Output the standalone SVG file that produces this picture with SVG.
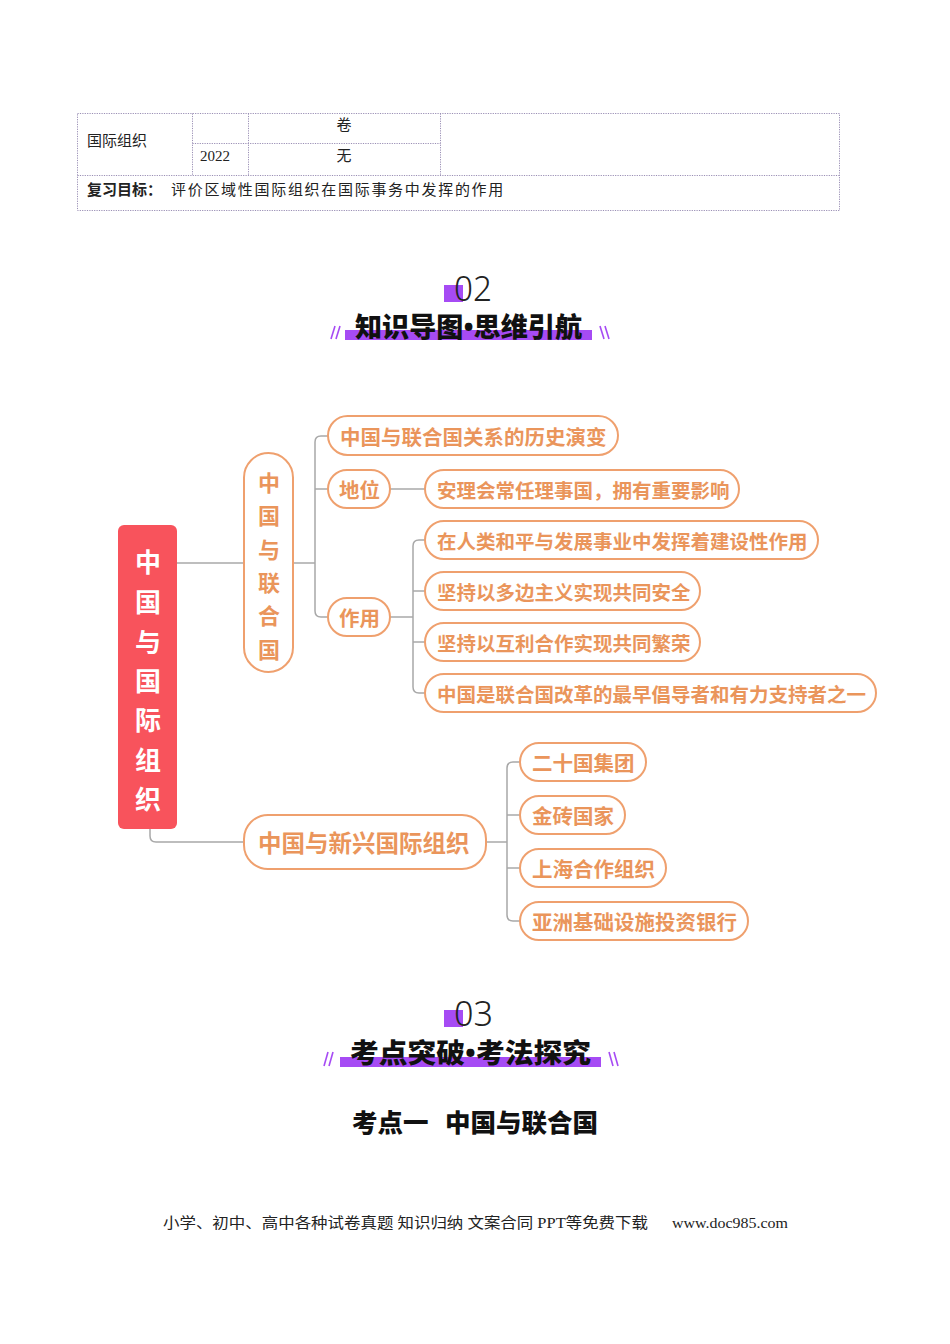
<svg xmlns="http://www.w3.org/2000/svg" width="950" height="1344" viewBox="0 0 950 1344">
<style>
.tb{fill:none;stroke:#9a8fb5;stroke-width:1;stroke-dasharray:1.2 1.2}
.tt{font-family:"Liberation Serif","Noto Sans CJK SC",serif;font-size:15px;fill:#222}
.pill{fill:#fff;stroke:#EFA06E;stroke-width:2}
.pt{font-family:"Noto Sans CJK SC",sans-serif;font-weight:700;fill:#EA955B;dominant-baseline:central}
.con{fill:none;stroke:#A8A8A8;stroke-width:1.5}
.num{font-family:"Noto Sans","Open Sans",sans-serif;font-weight:300;font-size:34px;fill:#222}
.ttl{font-family:"Noto Sans CJK SC",sans-serif;font-weight:900;font-size:27px;fill:#111}
.dot{font-family:"Noto Sans",sans-serif;font-weight:700}
.sl{stroke:#A64BF4;stroke-width:1.6}
.pur{fill:#A64BF4}
.sub{font-family:"Noto Sans CJK SC",sans-serif;font-weight:900;font-size:25.5px;fill:#111}
</style>
<rect width="950" height="1344" fill="#fff"/>
<g id="table">
<rect class="tb" x="77.5" y="113.5" width="762" height="97"/>
<line class="tb" x1="77.5" y1="175.5" x2="839.5" y2="175.5"/>
<line class="tb" x1="192.5" y1="143.5" x2="440.5" y2="143.5"/>
<line class="tb" x1="192.5" y1="113.5" x2="192.5" y2="175.5"/>
<line class="tb" x1="248.5" y1="113.5" x2="248.5" y2="175.5"/>
<line class="tb" x1="440.5" y1="113.5" x2="440.5" y2="175.5"/>
<text class="tt" x="87" y="146">国际组织</text>
<text class="tt" x="344" y="130" text-anchor="middle">卷</text>
<text class="tt" x="200" y="161">2022</text>
<text class="tt" x="344" y="161" text-anchor="middle">无</text>
<text class="tt" x="87" y="195"><tspan font-weight="700">复习目标：</tspan><tspan x="171" letter-spacing="1.7">评价区域性国际组织在国际事务中发挥的作用</tspan></text>
</g>
<g id="header02">
<rect class="pur" x="444" y="285" width="19" height="17"/>
<text class="num" x="454" y="301" textLength="38" lengthAdjust="spacingAndGlyphs">02</text>
<rect class="pur" x="345" y="330" width="247" height="10"/>
<text class="ttl" x="355" y="337" textLength="227" lengthAdjust="spacingAndGlyphs">知识导图<tspan class="dot">•</tspan>思维引航</text>
<line class="sl" x1="331" y1="339" x2="335" y2="326"/>
<line class="sl" x1="336" y1="339" x2="340" y2="326"/>
<line class="sl" x1="600" y1="326" x2="604" y2="339"/>
<line class="sl" x1="605" y1="326" x2="609" y2="339"/>
</g>
<g id="connectors">
<path class="con" d="M177 563 H244"/>
<path class="con" d="M293 563 H315"/>
<path class="con" d="M328 436 H321 Q315 436 315 442 V611 Q315 617 321 617 H328"/>
<path class="con" d="M315 489 H328"/>
<path class="con" d="M390 489 H425"/>
<path class="con" d="M390 617 H413"/>
<path class="con" d="M425 540 H419 Q413 540 413 546 V687 Q413 693 419 693 H425"/>
<path class="con" d="M413 591 H425"/>
<path class="con" d="M413 642 H425"/>
<path class="con" d="M150 829 V836 Q150 842 156 842 H244"/>
<path class="con" d="M486 842 H507"/>
<path class="con" d="M520 762 H513 Q507 762 507 768 V915 Q507 921 513 921 H520"/>
<path class="con" d="M507 815 H520"/>
<path class="con" d="M507 868 H520"/>
</g>
<g id="root">
<rect x="118" y="525" width="59" height="304" rx="6" fill="#F8535C"/>
<g font-family="'Noto Sans CJK SC',sans-serif" font-weight="700" font-size="26" fill="#fff" text-anchor="middle" dominant-baseline="central">
<text x="148" y="560">中</text><text x="148" y="600">国</text><text x="148" y="640">与</text><text x="148" y="679">国</text><text x="148" y="718">际</text><text x="148" y="758">组</text><text x="148" y="797">织</text>
</g>
</g>
<g id="n-un">
<rect class="pill" x="244" y="453" width="49" height="219" rx="24.5"/>
<g font-size="22" text-anchor="middle">
<text class="pt" x="269" y="481">中</text><text class="pt" x="269" y="514">国</text><text class="pt" x="269" y="548">与</text><text class="pt" x="269" y="581">联</text><text class="pt" x="269" y="614">合</text><text class="pt" x="269" y="648">国</text>
</g>
</g>
<g id="n-history">
<rect class="pill" x="328" y="416" width="290" height="39" rx="19.5"/>
<text class="pt" x="340" y="436" font-size="20.5">中国与联合国关系的历史演变</text>
</g>
<g id="n-status">
<rect class="pill" x="328" y="470" width="62" height="38" rx="19"/>
<text class="pt" x="339" y="489" font-size="20.5">地位</text>
</g>
<g id="n-status1">
<rect class="pill" x="425" y="470" width="314" height="38" rx="19"/>
<text class="pt" x="437" y="489" font-size="19.5">安理会常任理事国，拥有重要影响</text>
</g>
<g id="n-role">
<rect class="pill" x="328" y="598" width="62" height="38" rx="19"/>
<text class="pt" x="339" y="617" font-size="20.5">作用</text>
</g>
<g id="n-role1">
<rect class="pill" x="425" y="521" width="393" height="38" rx="19"/>
<text class="pt" x="437" y="540" font-size="19.5">在人类和平与发展事业中发挥着建设性作用</text>
</g>
<g id="n-role2">
<rect class="pill" x="425" y="572" width="275" height="38" rx="19"/>
<text class="pt" x="437" y="591" font-size="19.5">坚持以多边主义实现共同安全</text>
</g>
<g id="n-role3">
<rect class="pill" x="425" y="623" width="275" height="38" rx="19"/>
<text class="pt" x="437" y="642" font-size="19.5">坚持以互利合作实现共同繁荣</text>
</g>
<g id="n-role4">
<rect class="pill" x="425" y="674" width="451" height="38" rx="19"/>
<text class="pt" x="437" y="693" font-size="19.5">中国是联合国改革的最早倡导者和有力支持者之一</text>
</g>
<g id="n-new">
<rect class="pill" x="244" y="815" width="242" height="54" rx="24"/>
<text class="pt" x="258" y="842" font-size="23.5">中国与新兴国际组织</text>
</g>
<g id="n-g20">
<rect class="pill" x="520" y="743" width="126" height="38" rx="19"/>
<text class="pt" x="532" y="762" font-size="20.5">二十国集团</text>
</g>
<g id="n-brics">
<rect class="pill" x="520" y="796" width="105" height="38" rx="19"/>
<text class="pt" x="532" y="815" font-size="20.5">金砖国家</text>
</g>
<g id="n-sco">
<rect class="pill" x="520" y="849" width="146" height="38" rx="19"/>
<text class="pt" x="532" y="868" font-size="20.5">上海合作组织</text>
</g>
<g id="n-aiib">
<rect class="pill" x="520" y="902" width="228" height="38" rx="19"/>
<text class="pt" x="532" y="921" font-size="20.5">亚洲基础设施投资银行</text>
</g>
<g id="header03">
<rect class="pur" x="444" y="1010" width="19" height="17"/>
<text class="num" x="454" y="1026" textLength="39" lengthAdjust="spacingAndGlyphs">03</text>
<rect class="pur" x="340" y="1057" width="261" height="10"/>
<text class="ttl" x="350" y="1063" textLength="241" lengthAdjust="spacingAndGlyphs">考点突破<tspan class="dot">•</tspan>考法探究</text>
<line class="sl" x1="324" y1="1066" x2="328" y2="1052"/>
<line class="sl" x1="329" y1="1066" x2="333" y2="1052"/>
<line class="sl" x1="609" y1="1052" x2="613" y2="1066"/>
<line class="sl" x1="614" y1="1052" x2="618" y2="1066"/>
</g>
<g id="subhead">
<text class="sub" x="352" y="1132">考点一</text>
<text class="sub" x="445" y="1132">中国与联合国</text>
</g>
<g id="footer">
<text class="tt" x="163" y="1228" textLength="485" lengthAdjust="spacingAndGlyphs">小学、初中、高中各种试卷真题 知识归纳 文案合同 PPT等免费下载</text>
<text class="tt" x="672" y="1228" textLength="116" lengthAdjust="spacingAndGlyphs">www.doc985.com</text>
</g>
</svg>
